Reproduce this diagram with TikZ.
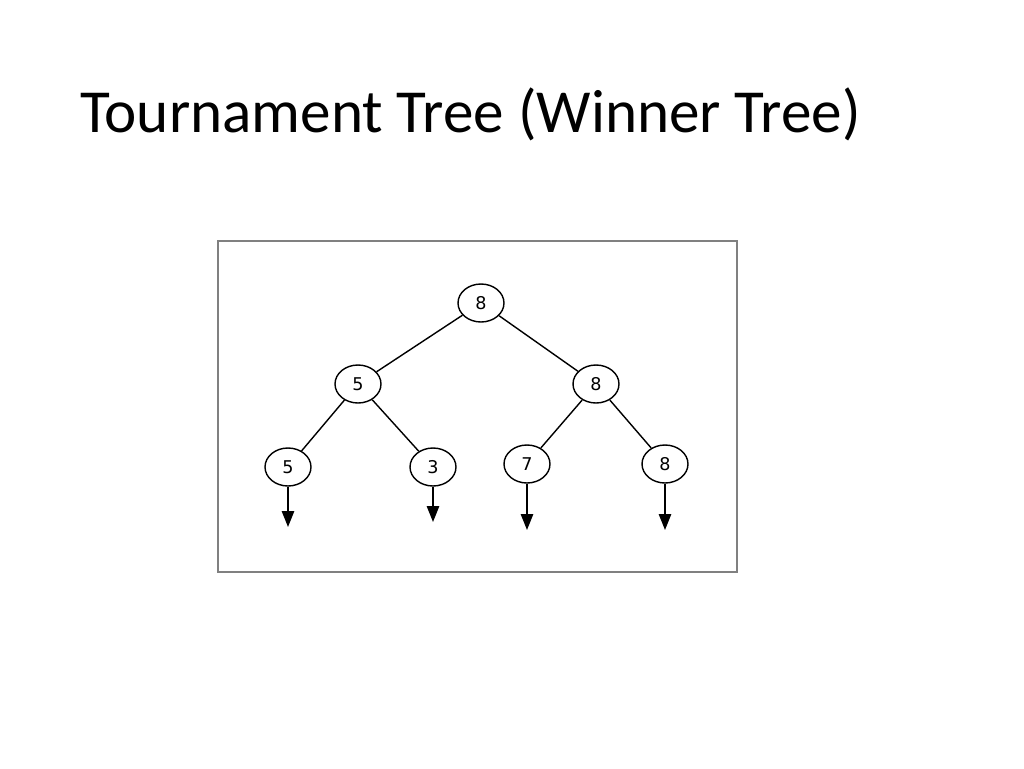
\documentclass[tikz,border=0pt]{standalone}
\usepackage{fontspec}
\setmainfont{Carlito}
\newfontfamily\treefont{DejaVu Sans}
\usetikzlibrary{shapes.geometric,arrows.meta}
\tikzset{
  vert/.style={draw, ellipse, thick, minimum width=0.92cm, minimum height=0.76cm, inner sep=0pt, font=\treefont\normalsize},
  edge/.style={thick},
  down/.style={thick, -{Triangle[width=7pt,length=9pt]}}
}
\begin{document}
\begin{tikzpicture}[x=0.02cm,y=-0.02cm]
		\useasboundingbox (0,0) rectangle (1024,768);
		\node[anchor=base west, inner sep=0pt, font=\fontsize{34.8}{42}\selectfont] (title) at (80,132) {Tournament Tree (Winner Tree)};
		\draw[gray, thick] (218,241) rectangle (737,572);

		\node[vert] (r) at (481,303) {8};
		\node[vert] (a) at (358,384) {5};
		\node[vert] (b) at (596,384) {8};
		\node[vert] (l1) at (288,467) {5};
		\node[vert] (l2) at (433,467) {3};
		\node[vert] (l3) at (527,464) {7};
		\node[vert] (l4) at (665,464) {8};

		\draw[edge] (r) -- (a);
		\draw[edge] (r) -- (b);
		\draw[edge] (a) -- (l1);
		\draw[edge] (a) -- (l2);
		\draw[edge] (b) -- (l3);
		\draw[edge] (b) -- (l4);

		\coordinate (e1) at (288,527);
		\coordinate (e2) at (433,522);
		\coordinate (e3) at (527,530);
		\coordinate (e4) at (665,530);
		\draw[down] (l1) -- (e1);
		\draw[down] (l2) -- (e2);
		\draw[down] (l3) -- (e3);
		\draw[down] (l4) -- (e4);
	\end{tikzpicture}
\end{document}
